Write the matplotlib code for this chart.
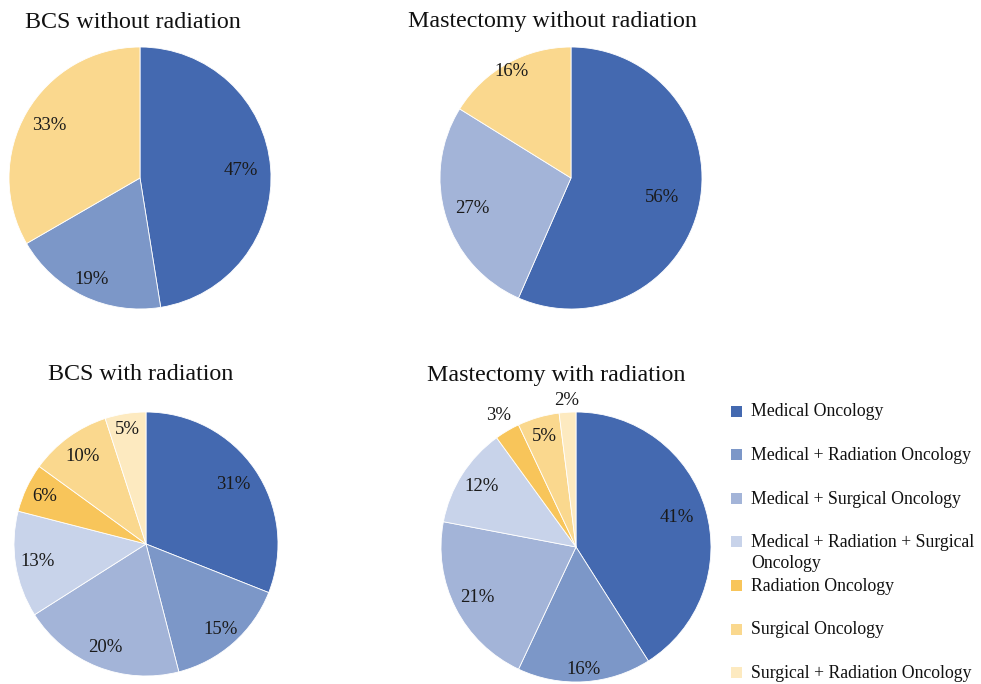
import matplotlib
matplotlib.use("Agg")
import matplotlib.pyplot as plt
import numpy as np
from matplotlib.patches import Rectangle

plt.rcParams['font.family'] = ['Liberation Serif', 'DejaVu Serif']

categories = ["Medical Oncology", "Medical + Radiation Oncology", "Medical + Surgical Oncology",
              "Medical + Radiation + Surgical\nOncology", "Radiation Oncology",
              "Surgical Oncology", "Surgical + Radiation Oncology"]
colors = ["#4469B0", "#7C97C8", "#A3B4D8", "#C8D3EA", "#F8C55A", "#FAD88E", "#FDEAC0"]

# category indices and values in % for each pie
bcs_wo_idx = [0, 1, 5]
bcs_wo_vals = [47, 19, 33]
mast_wo_idx = [0, 2, 5]
mast_wo_vals = [56, 27, 16]
bcs_w_idx = [0, 1, 2, 3, 4, 5, 6]
bcs_w_vals = [31, 15, 20, 13, 6, 10, 5]
mast_w_idx = [0, 1, 2, 3, 4, 5, 6]
mast_w_vals = [41, 16, 21, 12, 3, 5, 2]

W, H = 981, 684
fig = plt.figure(figsize=(W / 100, H / 100), dpi=100)

pies = [
    ("BCS without radiation", bcs_wo_idx, bcs_wo_vals, (140, 178), 131, (133, 22), [0.77, 0.86, 0.80]),
    ("Mastectomy without radiation", mast_wo_idx, mast_wo_vals, (571, 178), 131, (553, 22), [0.71, 0.79, 0.93]),
    ("BCS with radiation", bcs_w_idx, bcs_w_vals, (146, 544), 132, (141, 375),
     [0.80, 0.86, 0.84, 0.83, 0.85, 0.82, 0.88]),
    ("Mastectomy with radiation", mast_w_idx, mast_w_vals, (576, 547), 135, (556, 375),
     [0.78, 0.91, 0.82, 0.83, 1.13, 0.85, 1.09]),
]

for title, idx, vals, (cx, cy), r, (tx, ty), dists in pies:
    ax = fig.add_axes([(cx - r) / W, (H - cy - r) / H, 2 * r / W, 2 * r / H])
    wedges, _ = ax.pie(vals, colors=[colors[i] for i in idx], startangle=90, counterclock=False,
                       wedgeprops=dict(edgecolor="white", linewidth=0.6))
    ax.set_xlim(-1, 1)
    ax.set_ylim(-1, 1)
    ax.set_aspect("equal")
    for w, v, d in zip(wedges, vals, dists):
        ang = np.deg2rad((w.theta1 + w.theta2) / 2)
        ax.text(d * np.cos(ang), d * np.sin(ang), f"{v}%", ha="center", va="center",
                fontsize=13.5, color="#1a1a1a")
    fig.text(tx / W, 1 - ty / H, title, ha="center", va="center", fontsize=17.3, color="#111111")

# legend
y0 = 411
for i, (lab, c) in enumerate(zip(categories, colors)):
    y = y0 + 43.6 * i
    fig.add_artist(Rectangle(((731) / W, 1 - (y + 5.5) / H), 11 / W, 11 / H,
                             transform=fig.transFigure, facecolor=c, edgecolor="none"))
    fig.text(751 / W, 1 - (y - 7.5) / H, lab, ha="left", va="top", fontsize=12.8,
             color="#111111", linespacing=1.3)

fig.savefig("out.png", dpi=100)
